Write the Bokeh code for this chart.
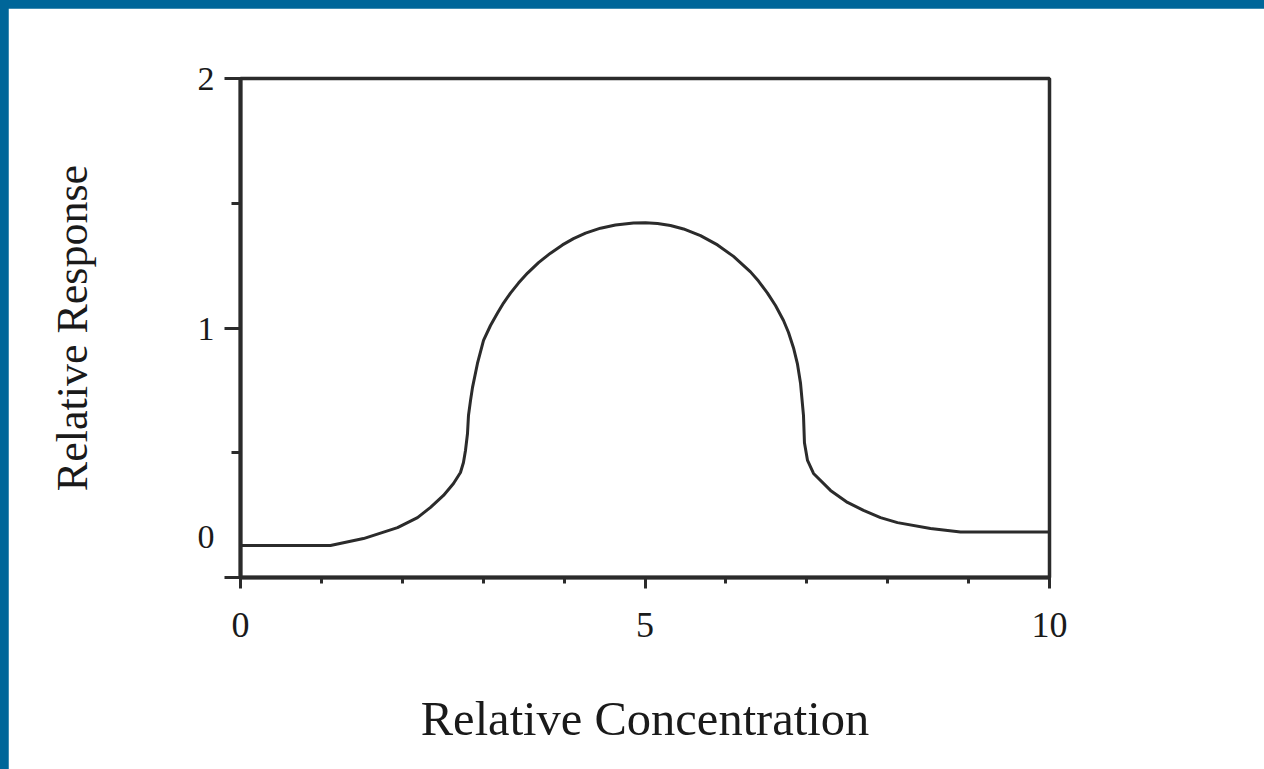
from bokeh.plotting import figure
from bokeh.models import Range1d, FixedTicker, GlobalInlineStyleSheet
from bokeh.embed import file_html
from bokeh.resources import INLINE

# ---- data ----
concentration = [0.000, 1.112, 1.520, 1.941, 2.188, 2.349, 2.509, 2.633, 2.719,
                 2.756, 2.781, 2.806, 2.818, 2.843, 2.868, 2.929, 3.004, 3.090,
                 3.177, 3.251, 3.337, 3.436, 3.548, 3.684, 3.832, 3.980, 4.116,
                 4.265, 4.450, 4.635, 4.858, 5.006, 5.155, 5.315, 5.476, 5.686,
                 5.896, 6.094, 6.304, 6.403, 6.514, 6.613, 6.712, 6.774, 6.836,
                 6.885, 6.922, 6.959, 6.971, 7.009, 7.083, 7.293, 7.503, 7.701,
                 7.911, 8.121, 8.529, 8.900, 10.000]
response = [0.128, 0.128, 0.156, 0.200, 0.240, 0.281, 0.329, 0.377, 0.421,
            0.461, 0.509, 0.577, 0.649, 0.709, 0.762, 0.858, 0.950, 1.010,
            1.060, 1.100, 1.140, 1.180, 1.220, 1.262, 1.300, 1.333, 1.358,
            1.380, 1.400, 1.413, 1.421, 1.422, 1.419, 1.411, 1.397, 1.370,
            1.333, 1.287, 1.225, 1.188, 1.140, 1.090, 1.030, 0.982, 0.920,
            0.855, 0.780, 0.650, 0.540, 0.469, 0.417, 0.349, 0.301, 0.269,
            0.240, 0.220, 0.196, 0.182, 0.182]

x_major_ticks = [0, 5, 10]
x_minor_ticks = [1, 2, 3, 4, 6, 7, 8, 9]
y_major_ticks = [0, 1, 2]
y_minor_ticks = [0.5, 1.5]
y_tick_labels = ["0", "1", "2"]
x_title = "Relative Concentration"
y_title = "Relative Response"

FONT = "Liberation Serif"
INK = "#2b2b2b"
TEXT = "#1a1a1a"

p = figure(width=1256, height=761, output_backend="svg", toolbar_location=None,
           x_range=Range1d(0, 10), y_range=Range1d(0, 2),
           min_border_left=232, min_border_right=215,
           min_border_top=70, min_border_bottom=192,
           background_fill_color="white", border_fill_color="white")

p.stylesheets = [GlobalInlineStyleSheet(
    css="html,body{margin:0;padding:0;overflow:hidden;background:#006699;}"
        "body{padding:8px 0 0 8px;}")]

p.grid.visible = False
p.outline_line_color = INK
p.outline_line_width = 3.5

p.line(concentration, response, line_color=INK, line_width=3,
       line_join="round", line_cap="round")

# x axis
xa = p.xaxis[0]
xa.ticker = FixedTicker(ticks=x_major_ticks, minor_ticks=x_minor_ticks)
xa.axis_line_color = INK
xa.axis_line_width = 4
xa.major_tick_line_color = INK
xa.major_tick_line_width = 3
xa.minor_tick_line_color = INK
xa.minor_tick_line_width = 3
xa.major_tick_in = 0
xa.major_tick_out = 11
xa.minor_tick_in = 0
xa.minor_tick_out = 6
xa.major_label_text_font = FONT
xa.major_label_text_font_size = "36px"
xa.major_label_text_color = TEXT
xa.major_label_standoff = 24
xa.axis_label = x_title
xa.axis_label_text_font = FONT
xa.axis_label_text_font_size = "48.5px"
xa.axis_label_text_font_style = "normal"
xa.axis_label_text_color = TEXT
xa.axis_label_standoff = 52

# y axis
ya = p.yaxis[0]
ya.ticker = FixedTicker(ticks=y_major_ticks, minor_ticks=y_minor_ticks)
ya.axis_line_color = INK
ya.axis_line_width = 4
ya.major_tick_line_color = INK
ya.major_tick_line_width = 3
ya.minor_tick_line_color = INK
ya.minor_tick_line_width = 3
ya.major_tick_in = 0
ya.major_tick_out = 16
ya.minor_tick_in = 0
ya.minor_tick_out = 9
ya.major_label_text_font = FONT
ya.major_label_text_font_size = "34px"
ya.major_label_text_color = TEXT
ya.major_label_text_line_height = 1.1
ya.major_label_standoff = 10
ya.major_label_orientation = "horizontal"
# in the reference the "0" is printed somewhat above its tick:
# two blank lines below it lift it by about one line height
ya.major_label_overrides = {y_major_ticks[0]: y_tick_labels[0] + "\n\u00a0\n\u00a0"}
ya.axis_label = y_title
ya.axis_label_text_font = FONT
ya.axis_label_text_font_size = "44px"
ya.axis_label_text_font_style = "normal"
ya.axis_label_text_color = TEXT
ya.axis_label_standoff = 98

open("out.html", "w").write(file_html(p, INLINE))
